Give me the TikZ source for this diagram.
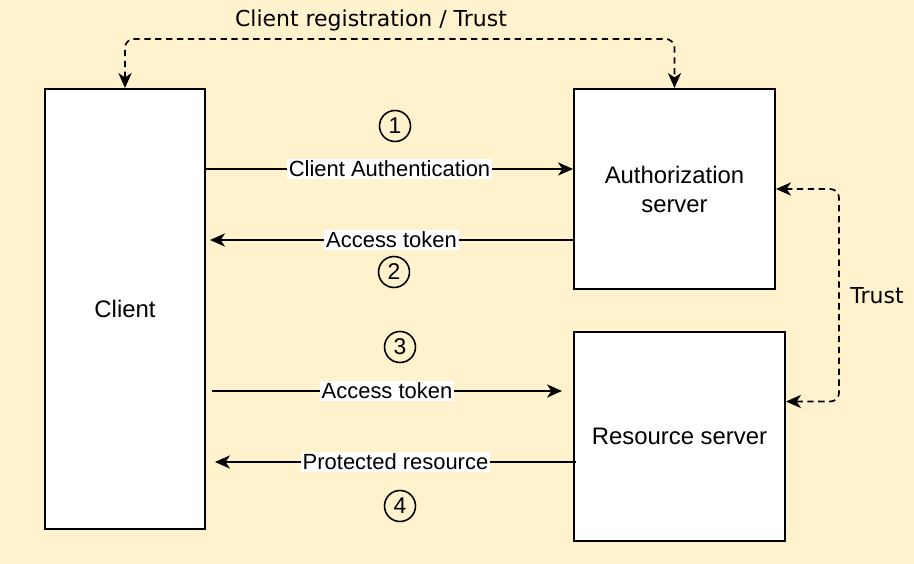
\documentclass[tikz,border=0pt]{standalone}
\usepackage{fontspec}
\setmainfont{Liberation Sans}
\newfontfamily\notefont{DejaVu Sans}
\usepackage{tikz}
\usetikzlibrary{arrows.meta,calc}
\definecolor{bgyellow}{HTML}{FFF2CC}
\tikzset{
	serverbox/.style={draw, line width=1.2pt, fill=white, inner sep=0pt, align=center, font=\fontsize{13.6}{16.5}\selectfont}
}
\tikzstyle{flow}=[line width=0.95pt, -{Stealth[length=8.5pt, width=7.5pt, inset=2.5pt]}]
\tikzstyle{trust}=[line width=0.95pt, dash pattern=on 3.6pt off 2.6pt, rounded corners=5pt, {Stealth[length=8.5pt, width=7.5pt, inset=2.5pt]}-{Stealth[length=8.5pt, width=7.5pt, inset=2.5pt]}]
\tikzstyle{msg}=[fill=white, inner sep=1.2pt, font=\fontsize{12.5}{14}\selectfont]
\tikzstyle{stepnum}=[draw, circle, line width=0.9pt, minimum size=0.62cm, inner sep=0pt, font=\fontsize{13}{15}\selectfont]
\tikzstyle{note}=[font=\notefont\fontsize{12.5}{14}\selectfont]

\begin{document}
\begin{tikzpicture}[x=0.02cm, y=-0.02cm]
	\fill[bgyellow] (0,0) rectangle (914,564);
	\node[serverbox, minimum width=3.2cm, minimum height=8.8cm] (client) at (125,309) {Client};
	\node[serverbox, minimum width=4.02cm, minimum height=4cm] (auth) at (674.5,189) {Authorization\\server};
	\node[serverbox, minimum width=4.22cm, minimum height=4.18cm] (res) at (679.5,436.5) {Resource server};
	% trust relations
	\draw[trust] (client.north) -- ++(0,-49) -| (auth.north);
	\node[note] (reg) at (371,20) {Client registration / Trust};
	\draw[trust] (auth.east) -- ++(63,0) |- ($(res.east)+(0,-35)$);
	\node[note] (trustlbl) at (877,296) {Trust};
	% messages
	\draw[flow] ($(client.east |- auth.west)+(0,-20)$) -- node[msg] {Client Authentication} ($(auth.west)+(0,-20)$);
	\draw[flow] ($(auth.west)+(0,51)$) -- node[msg] {Access token} ($(client.east |- auth.west)+(4,51)$);
	\draw[flow] ($(client.east |- res.west)+(6,-45.5)$) -- node[msg] {Access token} ($(res.west)+(-11,-45.5)$);
	\draw[flow] ($(res.west)+(3,25.5)$) -- node[msg] {Protected resource} ($(client.east |- res.west)+(9,25.5)$);
	% steps
	\node[stepnum] (s1) at (395,126) {1};
	\node[stepnum] (s2) at (394,272) {2};
	\node[stepnum] (s3) at (400,347) {3};
	\node[stepnum] (s4) at (400,506) {4};
\end{tikzpicture}
\end{document}
